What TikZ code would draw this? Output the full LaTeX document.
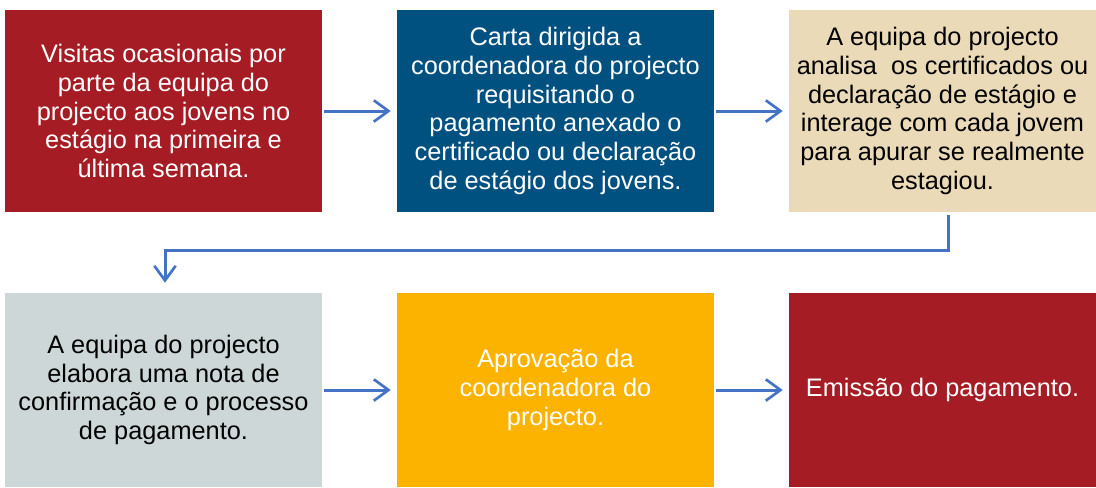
\documentclass[tikz,border=0pt]{standalone}
\usepackage{fontspec}
\setmainfont{Liberation Sans}
\usetikzlibrary{arrows.meta}
\definecolor{cred}{RGB}{165,28,36}
\definecolor{cblue}{RGB}{0,80,128}
\definecolor{cbeige}{RGB}{234,218,183}
\definecolor{cgray}{RGB}{205,215,216}
\definecolor{corange}{RGB}{251,179,0}
\definecolor{carrow}{RGB}{68,114,196}
\tikzset{
  box/.style={rectangle, inner sep=0pt, align=center, font=\fontsize{19pt}{21.5pt}\selectfont},
  rowone/.style={minimum height=151.5pt},
  rowtwo/.style={minimum height=145.5pt},
  wide/.style={minimum width=237.75pt},
  narrow/.style={minimum width=230.25pt},
  arr/.style={draw=carrow, line width=2.25pt, -{Straight Barb[length=11pt,width=16pt,line width=2pt]}},
}
\begin{document}
\begin{tikzpicture}[x=0.75pt,y=-0.75pt]
\useasboundingbox (0,0) rectangle (1096,487);
\node[box, rowone, wide, fill=cred, text=white] (b1) at (163.5,111)
  {Visitas ocasionais por\\parte da equipa do\\projecto aos jovens no\\estágio na primeira e\\última semana.};
\node[box, rowone, wide, fill=cblue, text=white] (b2) at (555.5,111)
  {Carta dirigida a\\coordenadora do projecto\\requisitando o\\pagamento anexado o\\certificado ou declaração\\de estágio dos jovens.};
\node[box, rowone, narrow, fill=cbeige, text=black] (b3) at (942.5,111)
  {A equipa do projecto\\analisa\ \ os certificados ou\\declaração de estágio e\\interage com cada jovem\\para apurar se realmente\\estagiou.};
\node[box, rowtwo, wide, fill=cgray, text=black] (b4) at (163.5,390)
  {A equipa do projecto\\elabora uma nota de\\confirmação e o processo\\de pagamento.};
\node[box, rowtwo, wide, fill=corange, text=white] (b5) at (555.5,390)
  {Aprovação da\\coordenadora do\\projecto.};
\node[box, rowtwo, narrow, fill=cred, text=white] (b6) at (942.5,390)
  {Emissão do pagamento.};
\coordinate (c1) at (948,250);
\coordinate (c2) at (165,250);
\draw[arr, shorten <=1.5pt, shorten >=4.5pt] (b1) -- (b2);
\draw[arr, shorten <=1.5pt, shorten >=4.5pt] (b2) -- (b3);
\draw[arr, shorten <=1.5pt, shorten >=4.5pt] (b4) -- (b5);
\draw[arr, shorten <=1.5pt, shorten >=4.5pt] (b5) -- (b6);
\draw[arr, shorten <=2pt, shorten >=7.5pt] (b3.south -| c1) -- (c1) -- (c2) -- (b4.north -| c2);
\end{tikzpicture}
\end{document}
